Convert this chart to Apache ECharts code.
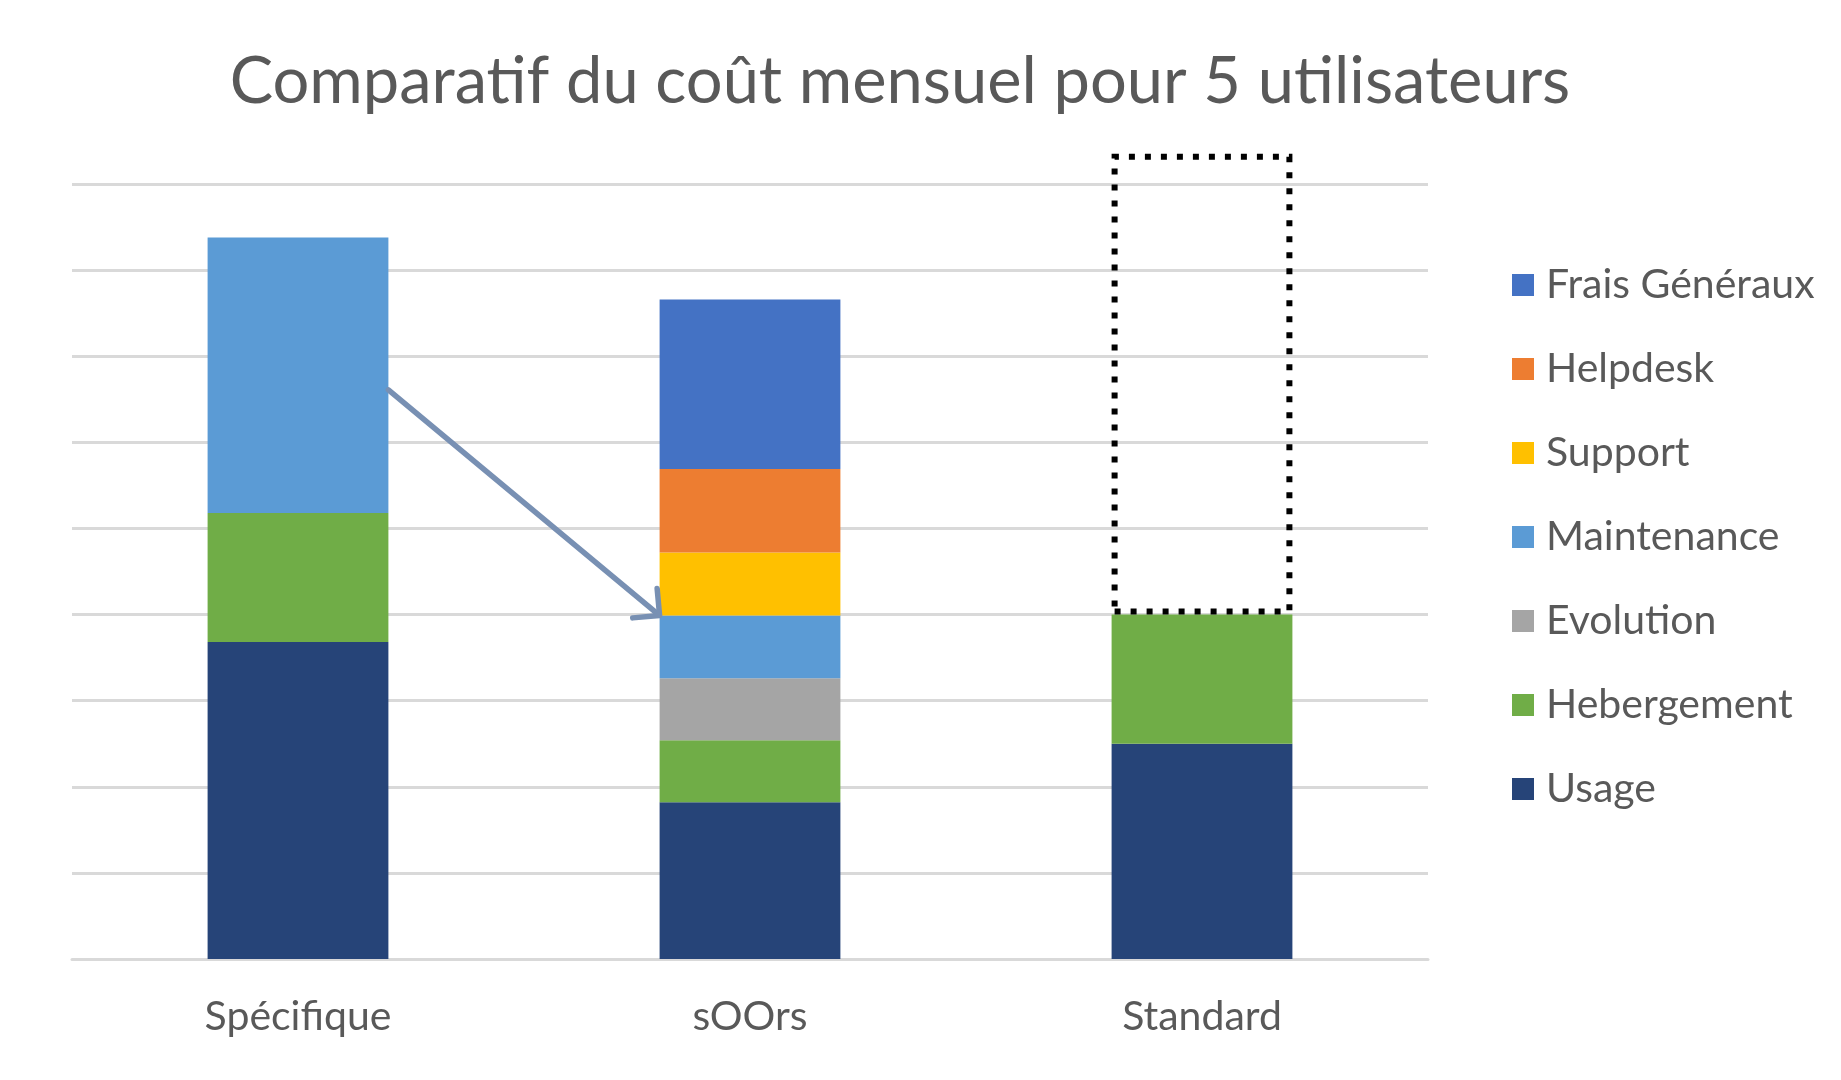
<!DOCTYPE html>
<html>
<head>
<meta charset="utf-8">
<script src="https://cdn.jsdelivr.net/npm/echarts@6/dist/echarts.min.js"></script>
<style>
html,body{margin:0;padding:0;background:#fff;}
#chart{width:1841px;height:1080px;}
</style>
</head>
<body>
<div id="chart"></div>
<script>
// ---- data ----
const categories = ['Spécifique', 'sOOrs', 'Standard'];
const usage         = [368, 182, 250];
const hebergement   = [150, 72, 150];
const evolution     = ['-', 72, '-'];
const maintenance   = [320, 73, '-'];
const support       = ['-', 73, '-'];
const helpdesk      = ['-', 97, '-'];
const fraisGeneraux = ['-', 197, '-'];
const standardGap   = ['-', '-', 535];   // dotted outline above Standard
const legendOrder = ['Frais Généraux', 'Helpdesk', 'Support', 'Maintenance', 'Evolution', 'Hebergement', 'Usage'];
const arrowStartValue = 661;             // arrow start height on the Spécifique bar

const FONT = 'Lato';
const TEXT = '#595959';

const chart = echarts.init(document.getElementById('chart'), null, {renderer: 'canvas'});

function seg(name, data, color) {
  return {
    name: name, type: 'bar', stack: 'total', data: data,
    barWidth: '40%', clip: false,
    itemStyle: {color: color},
    emphasis: {disabled: true}
  };
}

const option = {
  animation: false,
  backgroundColor: '#ffffff',
  title: {
    text: 'Comparatif du coût mensuel pour 5 utilisateurs',
    left: 895, top: 45, textAlign: 'center',
    textStyle: {fontFamily: FONT, fontSize: 65, fontWeight: 'normal', color: TEXT, lineHeight: 65}
  },
  grid: {left: 72, right: 413, top: 184, bottom: 121, containLabel: false},
  legend: {
    data: legendOrder,
    orient: 'vertical',
    left: 1507, top: 259,
    itemWidth: 22, itemHeight: 22, itemGap: 42,
    icon: 'rect',
    textStyle: {fontFamily: FONT, fontSize: 41, color: TEXT, lineHeight: 42, padding: [0, 0, 0, 7]},
    selectedMode: false
  },
  xAxis: {
    type: 'category', data: categories,
    axisLine: {lineStyle: {color: '#d9d9d9', width: 3}},
    axisTick: {show: false},
    axisLabel: {fontFamily: FONT, fontSize: 41, color: TEXT, margin: 37, lineHeight: 41}
  },
  yAxis: {
    type: 'value', min: 0, max: 900, interval: 100,
    axisLabel: {show: false}, axisLine: {show: false}, axisTick: {show: false},
    splitLine: {lineStyle: {color: '#d9d9d9', width: 3}}
  },
  series: [
    seg('Usage', usage, '#264478'),
    seg('Hebergement', hebergement, '#70ad47'),
    seg('Evolution', evolution, '#a5a5a5'),
    seg('Maintenance', maintenance, '#5b9bd5'),
    seg('Support', support, '#ffc000'),
    seg('Helpdesk', helpdesk, '#ed7d31'),
    seg('Frais Généraux', fraisGeneraux, '#4472c4'),
    {
      name: 'cible', type: 'bar', stack: 'total', data: standardGap,
      barWidth: '40%', clip: false, silent: true,
      itemStyle: {color: 'rgba(0,0,0,0)', borderColor: '#000000', borderWidth: 6, borderType: [6, 10]}
    }
  ]
};
chart.setOption(option);

// ---- arrow annotation from Spécifique bar to sOOrs bar ----
function num(v){ return typeof v === 'number' ? v : 0; }
const endValue = num(usage[1]) + num(hebergement[1]) + num(evolution[1]) + num(maintenance[1]);
const p0 = chart.convertToPixel({xAxisIndex: 0, yAxisIndex: 0}, [categories[0], arrowStartValue]);
const p1 = chart.convertToPixel({xAxisIndex: 0, yAxisIndex: 0}, [categories[1], endValue]);
const band = p1[0] - p0[0];
const halfBar = band * 0.2;
const sx = p0[0] + halfBar, sy = p0[1];
const ex = p1[0] - halfBar, ey = p1[1];
const ang = Math.atan2(sy - ey, sx - ex);
const L = 27, spread = Math.PI / 4;
const h1 = [ex + L * Math.cos(ang - spread), ey + L * Math.sin(ang - spread)];
const h2 = [ex + L * Math.cos(ang + spread), ey + L * Math.sin(ang + spread)];
const ARROW = '#7890b3';
chart.setOption({
  graphic: [
    {type: 'polyline', z: 100, shape: {points: [[sx, sy], [ex - 2, ey - 1.5]]},
     style: {stroke: ARROW, lineWidth: 5.5, lineCap: 'round'}},
    {type: 'polyline', z: 100, shape: {points: [h1, [ex, ey], h2]},
     style: {stroke: ARROW, lineWidth: 5.5, lineCap: 'round', lineJoin: 'round', fill: null}}
  ]
});
</script>
</body>
</html>
